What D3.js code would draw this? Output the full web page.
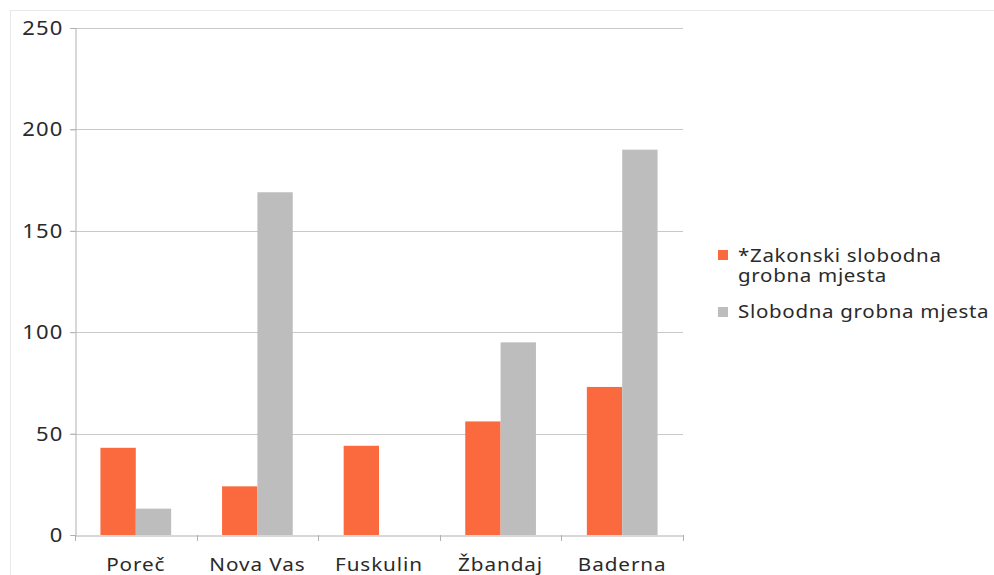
<!DOCTYPE html>
<html>
<head>
<meta charset="utf-8">
<script src="https://cdn.jsdelivr.net/npm/d3@7"></script>
<style>
  html, body { margin: 0; padding: 0; background: #fff; }
  svg { display: block; font-family: "Noto Sans", Lato, sans-serif; }
</style>
</head>
<body>
<svg id="chart" width="994" height="575"></svg>
<script>
const categories = ["Poreč", "Nova Vas", "Fuskulin", "Žbandaj", "Baderna"];
const seriesNames = ["*Zakonski slobodna grobna mjesta", "Slobodna grobna mjesta"];
const zakonski = [43, 24, 44, 56, 73];
const slobodna = [13, 169, 0, 95, 190];
const yTicks = [0, 50, 100, 150, 200, 250];
const colors = ["#fb6a3f", "#bdbdbd"];

(function () {
const svg = d3.select("#chart");
const mLeft = 75, mRight = 683, mTop = 28, mBottom = 535;

const x0 = d3.scaleBand().domain(categories).range([mLeft, mRight]).paddingInner(0).paddingOuter(0);
const x1 = d3.scaleBand().domain([0, 1]).range([0, x0.bandwidth()]).paddingInner(0).paddingOuter(0.72);
const y = d3.scaleLinear().domain([0, 250]).range([mBottom, mTop]);

// faint outer frame
svg.append("line").attr("x1", 11).attr("x2", 994).attr("y1", 10.5).attr("y2", 10.5)
  .attr("stroke", "#e8e8e8").attr("stroke-width", 1);
svg.append("line").attr("x1", 10.5).attr("x2", 10.5).attr("y1", 10).attr("y2", 575)
  .attr("stroke", "#e8e8e8").attr("stroke-width", 1);

// gridlines
svg.append("g").selectAll("line").data(yTicks.filter(d => d > 0)).join("line")
  .attr("x1", mLeft - 5).attr("x2", mRight)
  .attr("y1", d => Math.round(y(d)) + 0.5).attr("y2", d => Math.round(y(d)) + 0.5)
  .attr("stroke", "#c8c8c8").attr("stroke-width", 1);

// y axis
const yAxis = svg.append("g").attr("transform", `translate(${mLeft + 0.5},0)`)
  .call(d3.axisLeft(y).tickValues(yTicks).tickSize(5).tickPadding(7));
yAxis.select(".domain").attr("stroke", "#b0b0b0");
yAxis.selectAll(".tick line").attr("stroke", "#b0b0b0");
yAxis.selectAll(".tick text").attr("font-size", 20).attr("fill", "#2a2a2a")
  .attr("font-family", "'Noto Sans', sans-serif")
  .attr("letter-spacing", 1).attr("x", -11).attr("transform", "scale(1.1,1)");

// bars
const data = categories.map((c, i) => ({ c, vals: [zakonski[i], slobodna[i]] }));
const groups = svg.append("g").selectAll("g").data(data).join("g")
  .attr("transform", d => `translate(${x0(d.c)},0)`);
groups.selectAll("rect").data(d => d.vals.map((v, k) => ({ v, k }))).join("rect")
  .attr("x", d => x1(d.k))
  .attr("width", x1.bandwidth())
  .attr("y", d => y(d.v))
  .attr("height", d => y(0) - y(d.v))
  .attr("fill", d => colors[d.k]);

// x axis
const xAxis = svg.append("g").attr("transform", `translate(0,${mBottom + 0.5})`)
  .call(d3.axisBottom(x0).tickSize(0).tickPadding(23));
xAxis.select(".domain").attr("stroke", "#b0b0b0");
xAxis.selectAll(".tick text").attr("font-size", 18).attr("fill", "#2a2a2a")
  .attr("font-family", "'Noto Sans', sans-serif").attr("letter-spacing", 0.8)
  .attr("transform", "scale(1.15,1)");
// boundary tick marks
svg.append("g").selectAll("line").data(d3.range(categories.length + 1)).join("line")
  .attr("x1", i => Math.round(mLeft + i * x0.step()) + 0.5)
  .attr("x2", i => Math.round(mLeft + i * x0.step()) + 0.5)
  .attr("y1", mBottom).attr("y2", mBottom + 6)
  .attr("stroke", "#b0b0b0");

// legend
const legend = svg.append("g").attr("font-size", 18).attr("fill", "#2a2a2a")
  .attr("letter-spacing", 0.6);
const legendItems = [
  { k: 0, lines: ["*Zakonski slobodna", "grobna mjesta"], y: 262, sq: 250 },
  { k: 1, lines: ["Slobodna grobna mjesta"], y: 318, sq: 307 }
];
legendItems.forEach(item => {
  legend.append("rect").attr("x", 718).attr("y", item.sq).attr("width", 10).attr("height", 10)
    .attr("fill", colors[item.k]);
  item.lines.forEach((ln, j) => {
    legend.append("text")
      .attr("transform", `translate(738,${item.y + j * 20}) scale(1.14,1)`)
      .text(ln);
  });
});
})();
</script>
</body>
</html>
